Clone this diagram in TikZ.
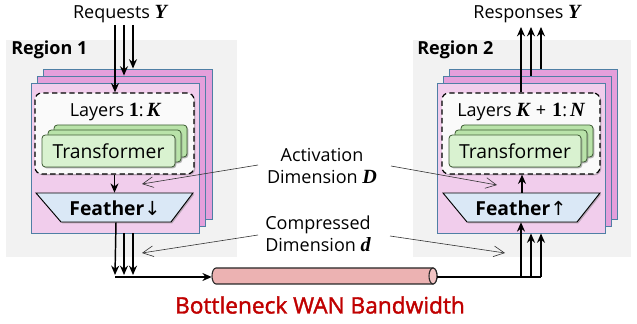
\documentclass[tikz,border=0pt]{standalone}
\usepackage{fontspec}
\setmainfont{Open Sans}
\newfontfamily\mathfnt[Scale=1.12]{Liberation Serif}
\newfontfamily\semifnt[FakeBold=1.6]{Open Sans}
\newfontfamily\arrowfnt{DejaVu Sans}
\usetikzlibrary{arrows.meta,shapes.geometric,shadows,fit}
\newcommand\mv[1]{{\mathfnt\bfseries\itshape #1}}
\newcommand\mb[1]{{\mathfnt\bfseries #1}}
\definecolor{regiongray}{HTML}{F2F2F2}
\definecolor{sheetfront}{HTML}{F1CDEC}
\definecolor{sheetback}{HTML}{E49FDB}
\definecolor{sheetborder}{HTML}{4F7FA5}
\definecolor{trfront}{HTML}{D9F2D0}
\definecolor{trback}{HTML}{B9E3A9}
\definecolor{trborder}{HTML}{3E5C34}
\definecolor{feathfill}{HTML}{DAE8F6}
\definecolor{cylfill}{HTML}{ECB2B2}
\definecolor{cylend}{HTML}{F2C4C4}
\definecolor{wanred}{HTML}{C00000}
\tikzset{
  px/.style={x=0.75pt,y=-0.75pt},
  region/.style={fill=regiongray, draw=none, inner sep=0pt},
  sheetb/.style={fill=sheetback, draw=sheetborder, line width=0.7pt, inner sep=0pt},
  sheetf/.style={fill=sheetfront, draw=sheetborder, line width=0.7pt, inner sep=0pt},
  layerbox/.style={fill=white!60!regiongray, draw=black, dashed, dash pattern=on 4pt off 2.5pt, line width=0.9pt, rounded corners=5pt, inner sep=0pt,
     drop shadow={shadow xshift=1pt, shadow yshift=-1pt, opacity=0.45}},
  trb/.style={fill=trback, draw=trborder, line width=0.6pt, rounded corners=2.5pt, inner sep=0pt,
     drop shadow={shadow xshift=1pt, shadow yshift=-1pt, opacity=0.6}},
  trf/.style={fill=trfront, draw=trborder, line width=0.6pt, rounded corners=2.5pt, inner sep=0pt,
     drop shadow={shadow xshift=1pt, shadow yshift=-1pt, opacity=0.6}},
  feath/.style={fill=feathfill, draw=black, line width=0.7pt},
  cyl/.style={fill=cylfill, draw=black!85, line width=0.8pt},
  txt/.style={inner sep=0pt, font=\fontsize{13.5}{16}\selectfont},
  reg/.style={inner sep=0pt, font=\fontsize{13.5}{16}\selectfont\bfseries, anchor=west},
  flow/.style={line width=1.1pt, -{Stealth[length=7pt,width=6pt]}},
  pointer/.style={line width=0.45pt, draw=black!80, -{Straight Barb[length=8pt,width=8pt,line width=0.45pt]}},
}
\begin{document}
\begin{tikzpicture}[px]
\useasboundingbox (0,0) rectangle (637,324);
% ---------- Region 1 ----------
\node[region, fit={(6,40) (237,257)}] (reg1) {};
\node[reg] (reg1lbl) at (11,50) {Region 1};
\node[sheetb, fit={(43,69) (212,219)}] (s1c) {};
\node[sheetb, fit={(37,76) (205,226)}] (s1b) {};
\node[sheetf, fit={(31,83) (199,233)}] (s1a) {};
\node[layerbox, fit={(35,93) (194,174)}] (lay1) {};
\node[txt] (lay1t) at (115,112) {Layers \mb{1}:\,\mv{K}};
\node[trb, fit={(54,125) (187,157)}] (tr1c) {};
\node[trb, fit={(48,130) (181,162)}] (tr1b) {};
\node[trf, fit={(42,135) (175,167)}] (tr1a) {};
\node[txt, font=\fontsize{14.5}{17}\selectfont] at (tr1a.center) {Transformer};
\draw[feath, drop shadow={shadow xshift=1pt, shadow yshift=-1pt, opacity=0.5}] (36,193) -- (193,193) -- (171,222) -- (61,222) -- cycle;
\node[inner sep=0pt, fit={(61,193) (171,222)}] (f1) {};
\node[txt, font=\fontsize{14.5}{17}\selectfont\bfseries] at (115,208) {Feather{\arrowfnt\mdseries ↓}};
% ---------- Region 2 ----------
\node[region, fit={(413,40) (631,257)}] (reg2) {};
\node[reg] (reg2lbl) at (417,50) {Region 2};
\node[sheetb, fit={(449,69) (617,219)}] (s2c) {};
\node[sheetb, fit={(443,76) (611,226)}] (s2b) {};
\node[sheetf, fit={(437,83) (605,233)}] (s2a) {};
\node[layerbox, fit={(442,93) (600,174)}] (lay2) {};
\node[txt] (lay2t) at (521,112) {Layers \mv{K}\,\,+\,\,\mb{1}:\,\mv{N}};
\node[trb, fit={(461,125) (593,157)}] (tr2c) {};
\node[trb, fit={(455,130) (587,162)}] (tr2b) {};
\node[trf, fit={(449,135) (581,167)}] (tr2a) {};
\node[txt, font=\fontsize{14.5}{17}\selectfont] at (tr2a.center) {Transformer};
\draw[feath, drop shadow={shadow xshift=1pt, shadow yshift=-1pt, opacity=0.5}] (443,193) -- (600,193) -- (577,222) -- (467,222) -- cycle;
\node[inner sep=0pt, fit={(467,193) (577,222)}] (f2) {};
\node[txt, font=\fontsize{14.5}{17}\selectfont\bfseries] at (521,208) {Feather{\arrowfnt\mdseries ↑}};
% ---------- WAN ----------
\draw[cyl] (216,268) -- (433,268) arc[start angle=90, end angle=-90, x radius=3pt, y radius=6pt]
   -- (216,284) arc[start angle=270, end angle=90, x radius=3pt, y radius=6pt] -- cycle;
\draw[cyl, fill=cylend] (433,276) ellipse [x radius=3pt, y radius=6pt];
\node[inner sep=0pt, fit={(212,268) (437,284)}] (wan) {};
\node[inner sep=0pt, font=\semifnt\fontsize{17}{20}\selectfont, text=wanred] (wanlbl) at (320,305) {Bottleneck WAN Bandwidth};
% ---------- texts ----------
\node[txt] (req) at (120,14) {Requests \mv{Y}};
\node[txt] (resp) at (527,14) {Responses \mv{Y}};
\node[txt, align=center, font=\fontsize{13.5}{16.5}\selectfont] (act) at (322,166) {Activation\\Dimension \mv{D}};
\node[txt, align=center, font=\fontsize{13.5}{16.5}\selectfont] (cmp) at (318,234) {Compressed\\Dimension \mv{d}};
% ---------- coordinates ----------
\coordinate (rq1) at (115,25); \coordinate (rq2) at (124,25); \coordinate (rq3) at (133,25);
\coordinate (rs1) at (521,27); \coordinate (rs2) at (531,27); \coordinate (rs3) at (541,27);
\coordinate (j1) at (115,277); \coordinate (j2) at (124,277); \coordinate (j3) at (133,277);
\coordinate (k1) at (521,277); \coordinate (k2) at (531,277); \coordinate (k3) at (541,277);
% ---------- request arrows ----------
\draw[flow] (rq1) -- (rq1 |- lay1.north);
\draw[flow] (rq2) -- (rq2 |- s1b.north);
\draw[flow] (rq3) -- (rq3 |- s1c.north);
\draw[flow] (lay1.south) -- (lay1.south |- f1.north);
\draw[line width=1.1pt, -{Stealth[length=7pt,width=6pt]}] (f1.south) -- ([yshift=1.5pt]j1);
\draw[line width=1.1pt, -{Stealth[length=7pt,width=6pt]}] (j2 |- s1a.south) -- ([yshift=1.5pt]j2);
\draw[line width=1.1pt, -{Stealth[length=7pt,width=6pt]}] (j3 |- s1a.south) -- ([yshift=1.5pt]j3);
\draw[flow] (j1) -- (j1 -| wan.west);
% ---------- response side ----------
\draw[line width=1.1pt] (k3 -| wan.east) -- (k3);
\draw[flow] (k1) -- (k1 |- f2.south);
\draw[flow] (k2) -- (k2 |- s2a.south);
\draw[flow] (k3) -- (k3 |- s2a.south);
\draw[flow] (f2.north) -- (f2.north |- lay2.south);
\draw[flow] (k1 |- lay2.north) -- (rs1);
\draw[flow] (k2 |- s2b.north) -- (rs2);
\draw[flow] (k3 |- s2c.north) -- (rs3);
% ---------- pointers ----------
\draw[pointer] (258,165) -- (142,184);
\draw[pointer] (391,166) -- (497,185);
\draw[pointer] (258,235) -- (142,253);
\draw[pointer] (390,236) -- (505,253);
\end{tikzpicture}
\end{document}
